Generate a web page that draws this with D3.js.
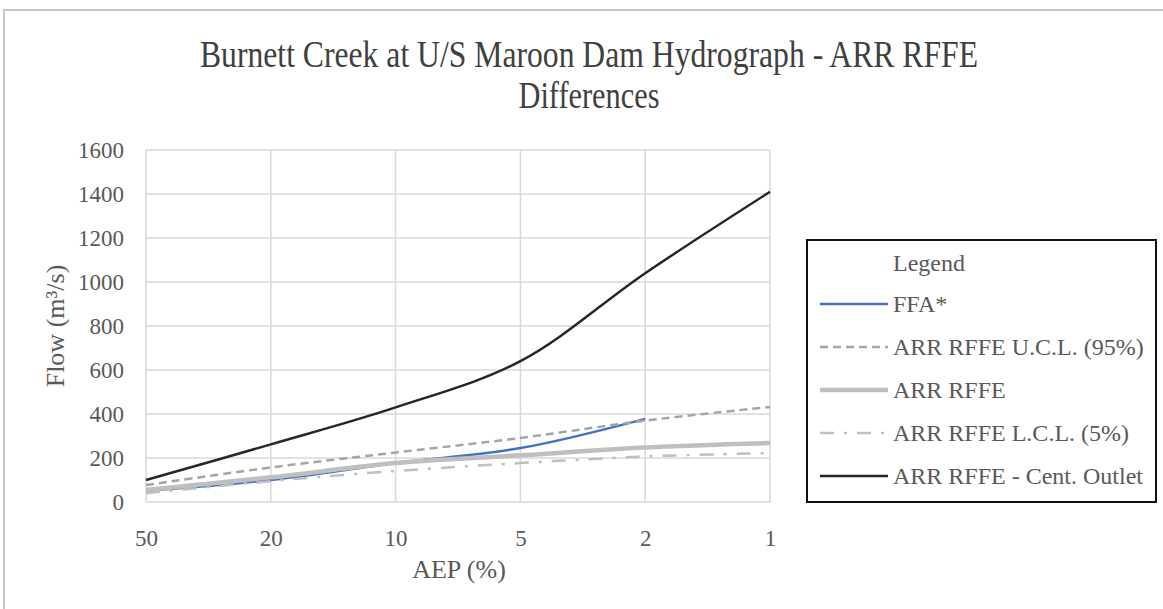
<!DOCTYPE html>
<html>
<head>
<meta charset="utf-8">
<script src="https://cdn.jsdelivr.net/npm/d3@7"></script>
<style>
  html, body { margin: 0; padding: 0; background: #fff; }
  svg { display: block; font-family: "Liberation Serif", "Times New Roman", serif; }
</style>
</head>
<body>
<svg id="chart" width="1163" height="609"></svg>
<script>
// AEP categories (%), evenly spaced along the x axis
const categories = ["50", "20", "10", "5", "2", "1"];

// Peak flow estimates (m³/s) for each AEP
const ffa       = [50, 100, 177, 245, 378, null];
const rffeUCL   = [77, 157, 225, 291, 370, 432];
const rffe      = [55, 112, 177, 212, 248, 268];
const rffeLCL   = [40, 95, 141, 177, 207, 222];
const rffeCent  = [100, 262, 430, 640, 1040, 1410];

const yTicks = [0, 200, 400, 600, 800, 1000, 1200, 1400, 1600];

const series = [
  { name: "FFA*",                     values: ffa,      color: "#4472C4", width: 2.5, dash: null },
  { name: "ARR RFFE U.C.L. (95%)",    values: rffeUCL,  color: "#A5A5A5", width: 2.5, dash: "8,5" },
  { name: "ARR RFFE",                 values: rffe,     color: "#BFBFBF", width: 4.5, dash: null },
  { name: "ARR RFFE L.C.L. (5%)",     values: rffeLCL,  color: "#BFBFBF", width: 2.5, dash: "14,10,3,10" },
  { name: "ARR RFFE - Cent. Outlet",  values: rffeCent, color: "#262626", width: 2.5, dash: null }
];

const svg = d3.select("#chart");

// outer chart frame (top and left edges visible)
svg.append("path")
  .attr("d", "M4,1163 V10 H1163")
  .attr("fill", "none").attr("stroke", "#c6c6c6").attr("stroke-width", 2);

const plot = { left: 146, right: 770, top: 150, bottom: 502 };

const x = d3.scalePoint().domain(categories).range([plot.left, plot.right]);
const y = d3.scaleLinear().domain([0, 1600]).range([plot.bottom, plot.top]);

// title
const title = svg.append("text").attr("text-anchor", "middle").attr("fill", "#404040")
  .attr("font-size", 37);
title.append("tspan").attr("x", 589).attr("y", 67)
  .attr("textLength", 778).attr("lengthAdjust", "spacingAndGlyphs")
  .text("Burnett Creek at U/S Maroon Dam Hydrograph - ARR RFFE");
title.append("tspan").attr("x", 589).attr("y", 108)
  .attr("textLength", 141).attr("lengthAdjust", "spacingAndGlyphs")
  .text("Differences");

// gridlines
const grid = svg.append("g").attr("stroke", "#d9d9d9").attr("stroke-width", 1.5);
grid.selectAll("line.h").data(yTicks).join("line")
  .attr("x1", plot.left).attr("x2", plot.right)
  .attr("y1", d => y(d)).attr("y2", d => y(d));
grid.selectAll("line.v").data(categories).join("line")
  .attr("x1", d => x(d)).attr("x2", d => x(d))
  .attr("y1", plot.top).attr("y2", plot.bottom);

// y axis labels
const yAxis = svg.append("g").attr("transform", `translate(${plot.left - 22},0)`)
  .call(d3.axisLeft(y).tickValues(yTicks).tickSize(0).tickPadding(0).tickFormat(d3.format("d")));
yAxis.select(".domain").remove();
yAxis.selectAll("text").attr("font-family", "Liberation Serif").attr("font-size", 23)
  .attr("fill", "#595959");

// x axis labels
const xAxis = svg.append("g").attr("transform", `translate(0,${plot.bottom + 24})`)
  .call(d3.axisBottom(x).tickSize(0).tickPadding(0));
xAxis.select(".domain").remove();
xAxis.selectAll("text").attr("font-family", "Liberation Serif").attr("font-size", 23)
  .attr("fill", "#595959").attr("dy", "0.85em");

// axis titles
svg.append("text").attr("x", (plot.left + plot.right) / 2 + 1).attr("y", 578)
  .attr("text-anchor", "middle").attr("font-size", 26).attr("fill", "#595959")
  .text("AEP (%)");
svg.append("text").attr("transform", `translate(64,${(plot.top + plot.bottom) / 2}) rotate(-90)`)
  .attr("text-anchor", "middle").attr("font-size", 26).attr("fill", "#595959")
  .text("Flow (m³/s)");

// series lines
const line = d3.line()
  .defined(d => d != null)
  .x((d, i) => x(categories[i]))
  .y(d => y(d))
  .curve(d3.curveCatmullRom.alpha(0.5));

svg.append("g").selectAll("path").data(series).join("path")
  .attr("fill", "none")
  .attr("stroke", d => d.color)
  .attr("stroke-width", d => d.width)
  .attr("stroke-dasharray", d => d.dash)
  .attr("stroke-linecap", "butt")
  .attr("d", d => line(d.values));

// legend
const lg = svg.append("g");
lg.append("rect").attr("x", 807).attr("y", 240).attr("width", 349).attr("height", 262)
  .attr("fill", "#fff").attr("stroke", "#111").attr("stroke-width", 2);
lg.append("text").attr("x", 893).attr("y", 271).attr("font-size", 24).attr("fill", "#595959")
  .text("Legend");
const rows = lg.selectAll("g.row").data(series).join("g")
  .attr("transform", (d, i) => `translate(0,${304 + i * 43})`);
rows.append("line").attr("x1", 820).attr("x2", 888).attr("y1", 0).attr("y2", 0)
  .attr("stroke", d => d.color).attr("stroke-width", d => d.width)
  .attr("stroke-dasharray", d => d.dash);
rows.append("text").attr("x", 893).attr("y", 8).attr("font-size", 24).attr("fill", "#595959")
  .text(d => d.name);
</script>
</body>
</html>
